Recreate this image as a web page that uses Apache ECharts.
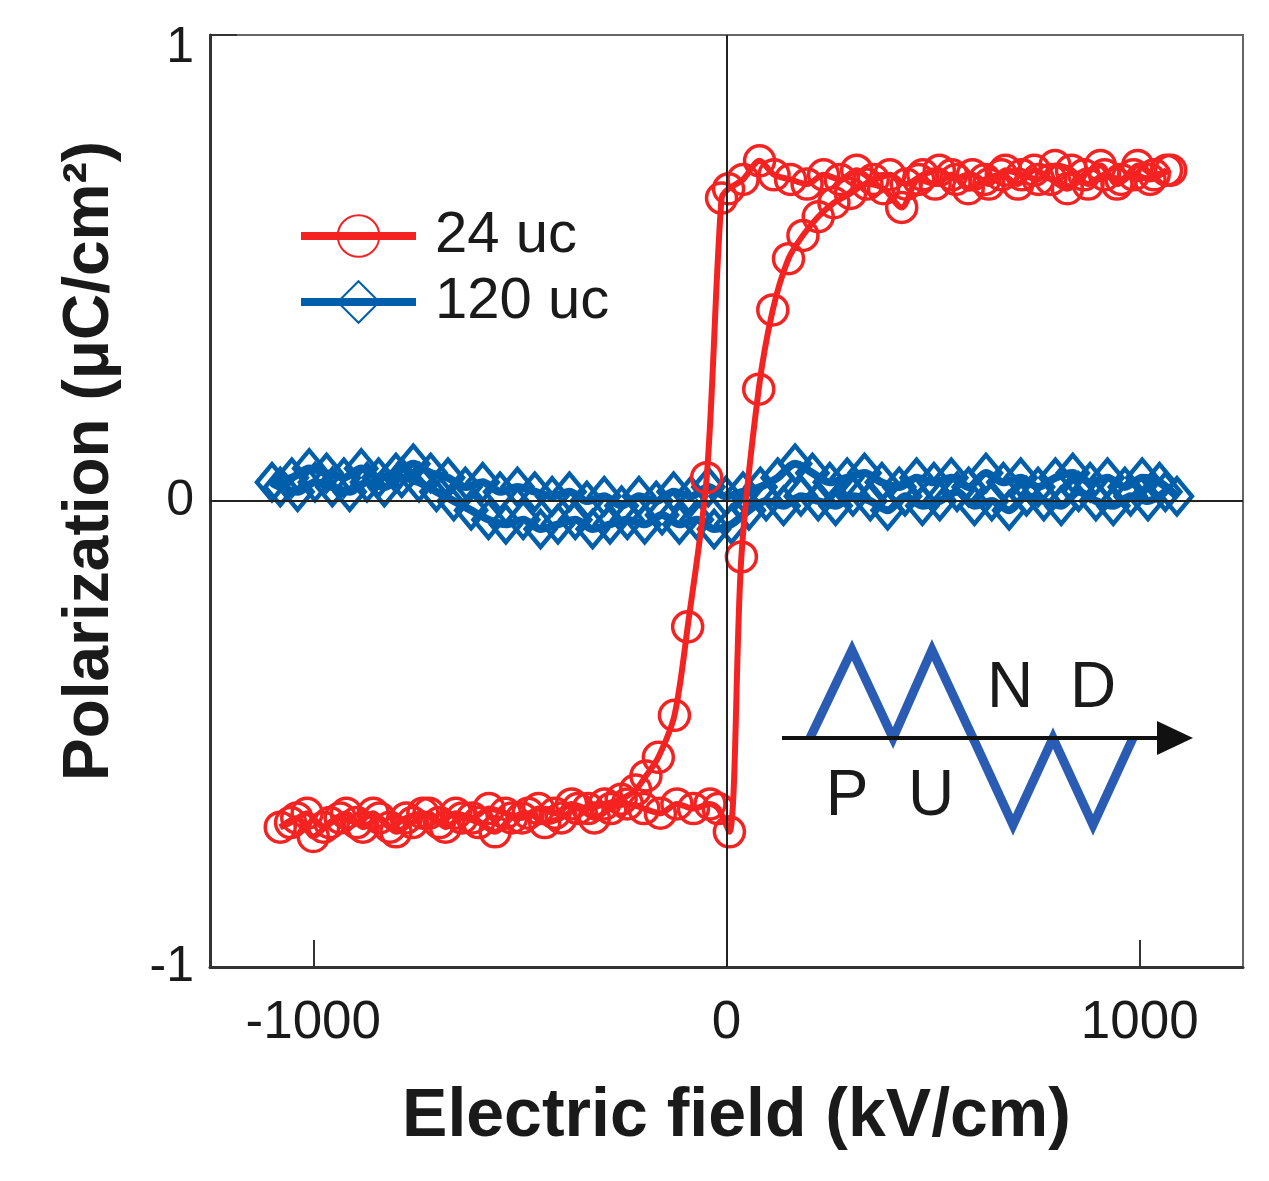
<!DOCTYPE html>
<html>
<head>
<meta charset="utf-8">
<script src="https://cdn.jsdelivr.net/npm/echarts@6/dist/echarts.min.js"></script>
<style>
html,body{margin:0;padding:0;background:#fff;}
#chart{width:1269px;height:1181px;}
</style>
</head>
<body>
<div id="chart"></div>
<script>
// ---- Data ----
const xTicks = [-1000, 0, 1000];
const yTicks = [-1, 0, 1];

const seriesNames = ['24 uc', '120 uc'];

// 24 uc: descending branch (+E -> -E)
const red24DownE = [1075, 1035, 995, 955, 915, 875, 835, 795, 755, 715, 675, 635, 595, 555, 515, 475, 435, 395, 355, 315, 275, 235, 195, 155, 115, 80, 40, 5, -12, -48, -94, -126, -165, -195, -220, -255, -295, -335, -375, -415, -455, -495, -535, -575, -615, -655, -695, -735, -775, -815, -855, -895, -935, -975, -1015, -1055];
const red24DownP = [0.71, 0.70, 0.72, 0.69, 0.70, 0.68, 0.71, 0.72, 0.69, 0.70, 0.71, 0.68, 0.70, 0.69, 0.71, 0.70, 0.68, 0.70, 0.69, 0.71, 0.69, 0.70, 0.68, 0.69, 0.70, 0.73, 0.69, 0.67, 0.65, 0.05, -0.27, -0.46, -0.55, -0.59, -0.62, -0.64, -0.65, -0.66, -0.65, -0.67, -0.66, -0.68, -0.67, -0.66, -0.68, -0.67, -0.69, -0.67, -0.68, -0.70, -0.67, -0.69, -0.68, -0.70, -0.67, -0.69];
// 24 uc: ascending branch (-E -> +E)
const red24UpE = [-1080, -1040, -1000, -960, -920, -880, -840, -800, -760, -720, -680, -640, -600, -560, -520, -480, -440, -400, -360, -320, -280, -240, -200, -160, -120, -80, -40, -20, 7, 36, 78, 112, 150, 185, 222, 260, 300, 340, 380, 424, 465, 505, 545, 585, 625, 665, 705, 745, 785, 825, 865, 905, 945, 985, 1025, 1065];
const red24UpP = [-0.70, -0.68, -0.72, -0.69, -0.67, -0.70, -0.68, -0.71, -0.69, -0.67, -0.70, -0.68, -0.69, -0.71, -0.68, -0.67, -0.69, -0.68, -0.66, -0.68, -0.66, -0.65, -0.66, -0.67, -0.65, -0.66, -0.65, -0.66, -0.71, -0.12, 0.24, 0.41, 0.52, 0.57, 0.61, 0.64, 0.66, 0.68, 0.67, 0.63, 0.69, 0.68, 0.70, 0.67, 0.69, 0.70, 0.68, 0.71, 0.69, 0.67, 0.70, 0.72, 0.68, 0.70, 0.69, 0.71];

// 120 uc: descending branch
const blue120DownE = [1090, 1048, 1006, 964, 922, 880, 838, 796, 754, 712, 670, 628, 586, 544, 502, 460, 418, 376, 334, 292, 250, 208, 166, 124, 82, 40, -2, -44, -86, -128, -170, -212, -254, -296, -338, -380, -422, -464, -506, -548, -590, -632, -674, -716, -758, -800, -842, -884, -926, -968, -1010, -1052, -1100];
const blue120DownP = [0.01, 0.04, 0.05, 0.03, 0.05, 0.04, 0.06, 0.05, 0.03, 0.05, 0.04, 0.06, 0.03, 0.05, 0.04, 0.05, 0.03, 0.04, 0.06, 0.05, 0.04, 0.06, 0.08, 0.05, 0.03, 0.02, 0.01, 0.03, 0.01, 0.02, 0.00, 0.01, -0.01, 0.01, 0.00, 0.02, 0.01, 0.02, 0.03, 0.02, 0.04, 0.03, 0.05, 0.06, 0.08, 0.06, 0.05, 0.07, 0.05, 0.06, 0.07, 0.05, 0.04];
// 120 uc: ascending branch
const blue120UpE = [-1080, -1038, -996, -954, -912, -870, -828, -786, -744, -702, -660, -618, -576, -534, -492, -450, -408, -366, -324, -282, -240, -198, -156, -114, -72, -30, 12, 54, 96, 138, 180, 222, 264, 306, 348, 390, 432, 474, 516, 558, 600, 642, 684, 726, 768, 810, 852, 894, 936, 978, 1020, 1062];
const blue120UpP = [0.03, 0.02, 0.04, 0.03, 0.02, 0.04, 0.03, 0.05, 0.04, 0.02, 0.00, -0.02, -0.04, -0.05, -0.04, -0.06, -0.05, -0.04, -0.06, -0.05, -0.04, -0.05, -0.03, -0.05, -0.04, -0.06, -0.05, -0.02, 0.00, -0.01, 0.01, 0.00, -0.01, 0.01, 0.00, -0.02, 0.01, -0.01, 0.00, 0.02, -0.01, 0.00, -0.02, 0.01, 0.00, -0.01, 0.02, 0.00, -0.01, 0.01, 0.00, 0.02];

function pairs(xs, ys) { return xs.map((x, i) => [x, ys[i]]); }
const redLoop = pairs(red24DownE, red24DownP).concat(pairs(red24UpE, red24UpP));
const blueLoop = pairs(blue120DownE, blue120DownP).concat(pairs(blue120UpE, blue120UpP));

const RED = '#f52222';
const BLUE = '#005eab';
const FONT = '"Liberation Sans", Arial, Helvetica, sans-serif';

const chart = echarts.init(document.getElementById('chart'), null, {renderer: 'canvas'});
chart.setOption({
  backgroundColor: '#fff',
  animation: false,
  textStyle: {fontFamily: FONT},
  grid: {left: 210, right: 26, top: 35, bottom: 214, show: true, borderColor: '#666', borderWidth: 2, backgroundColor: 'transparent'},
  legend: {
    orient: 'vertical', left: 297, top: 207, padding: 0,
    itemWidth: 115, itemHeight: 52, itemGap: 8,
    data: seriesNames,
    lineStyle: {width: 8},
    textStyle: {fontSize: 58, color: '#1a1a1a', fontFamily: FONT, padding: [0, 0, 0, 14]}
  },
  xAxis: {
    type: 'value', min: -1250, max: 1250,
    name: 'Electric field (kV/cm)', nameLocation: 'middle', nameGap: 116,
    nameTextStyle: {fontSize: 68, fontWeight: 'bold', color: '#1a1a1a', fontFamily: FONT, padding: [0, 0, 0, 20]},
    axisLine: {onZero: false, lineStyle: {color: '#333', width: 3}},
    axisTick: {inside: true, length: 27, customValues: xTicks, lineStyle: {color: '#333', width: 2}},
    axisLabel: {customValues: xTicks, fontSize: 53, color: '#1a1a1a', margin: 30, fontFamily: FONT, formatter: v => String(v)},
    splitLine: {show: false}
  },
  yAxis: {
    type: 'value', min: -1, max: 1, interval: 1,
    name: 'Polarization (μC/cm²)', nameLocation: 'middle', nameGap: 88,
    nameTextStyle: {fontSize: 64, fontWeight: 'bold', color: '#1a1a1a', fontFamily: FONT, padding: [0, 0, 0, 80]},
    axisLine: {onZero: false, lineStyle: {color: '#333', width: 3}},
    axisTick: {inside: true, length: 27, lineStyle: {color: '#333', width: 2}},
    axisLabel: {
      fontSize: 50, color: '#1a1a1a', margin: 16, fontFamily: FONT,
      formatter: v => (v === 1 ? '{top|1}' : String(v)),
      rich: {top: {fontSize: 50, color: '#1a1a1a', fontFamily: FONT, padding: [26, 0, 0, 0]}}
    },
    splitLine: {show: false}
  },
  series: [
    {
      type: 'line', name: 'zero', data: [], z: 1, silent: true,
      markLine: {
        silent: true, symbol: 'none', label: {show: false},
        lineStyle: {color: '#222', width: 2, type: 'solid'},
        data: [{xAxis: 0}, {yAxis: 0}]
      }
    },
    {
      type: 'line', name: seriesNames[1], data: blueLoop, z: 2,
      smooth: 0.3, symbol: 'diamond', symbolSize: [30, 36],
      lineStyle: {color: BLUE, width: 8},
      itemStyle: {color: 'transparent', borderColor: BLUE, borderWidth: 4.5}
    },
    {
      type: 'line', name: seriesNames[0], data: redLoop, z: 3,
      smooth: 0.3, symbol: 'circle', symbolSize: 30,
      lineStyle: {color: RED, width: 6},
      itemStyle: {color: 'transparent', borderColor: RED, borderWidth: 3.5}
    }
  ],
  graphic: [
    {type: 'polyline', z: 10, silent: true,
     shape: {points: [[810, 738], [852, 650], [893, 738], [932, 650], [973, 738], [1013, 825], [1053, 738], [1093, 825], [1133, 738]]},
     style: {stroke: '#2b5cb3', lineWidth: 9, fill: null, lineJoin: 'miter'}},
    {type: 'line', z: 11, silent: true, shape: {x1: 782, y1: 738, x2: 1160, y2: 738}, style: {stroke: '#111', lineWidth: 4}},
    {type: 'polygon', z: 11, silent: true, shape: {points: [[1157, 721], [1193, 738], [1157, 755]]}, style: {fill: '#111'}},
    {type: 'text', z: 11, silent: true, style: {text: 'N', x: 1010, y: 689, fontSize: 64, fontFamily: FONT, fill: '#1a1a1a', align: 'center', verticalAlign: 'middle'}},
    {type: 'text', z: 11, silent: true, style: {text: 'D', x: 1093, y: 689, fontSize: 64, fontFamily: FONT, fill: '#1a1a1a', align: 'center', verticalAlign: 'middle'}},
    {type: 'text', z: 11, silent: true, style: {text: 'P', x: 847, y: 797, fontSize: 64, fontFamily: FONT, fill: '#1a1a1a', align: 'center', verticalAlign: 'middle'}},
    {type: 'text', z: 11, silent: true, style: {text: 'U', x: 931, y: 797, fontSize: 64, fontFamily: FONT, fill: '#1a1a1a', align: 'center', verticalAlign: 'middle'}}
  ]
});
</script>
</body>
</html>
